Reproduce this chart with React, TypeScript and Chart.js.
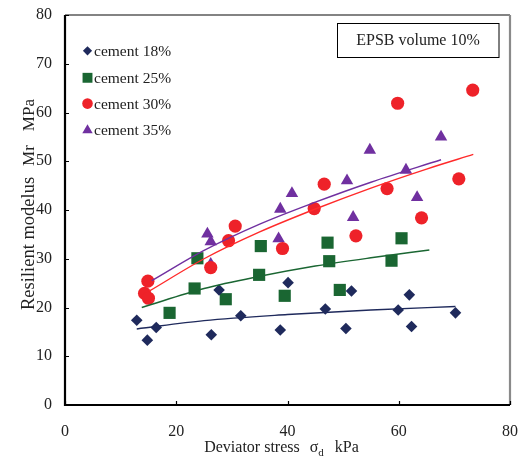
import React, { useEffect, useRef } from "react";
import { Chart, registerables } from "chart.js";

Chart.register(...registerables);

// ---- data ----
const seriesLabels = ["cement 18%", "cement 25%", "cement 30%", "cement 35%"];

const cement18X = [12.9, 14.8, 16.4, 26.3, 27.7, 31.6, 38.7, 40.1, 46.8, 50.5, 51.5, 59.9, 61.9, 62.3, 70.2];
const cement18Y = [17.4, 13.3, 15.9, 14.4, 23.6, 18.3, 15.4, 25.1, 19.7, 15.7, 23.4, 19.5, 22.6, 16.1, 18.9];

const cement25X = [23.8, 35.2, 47.2, 60.5, 47.5, 58.7, 34.9, 23.3, 28.9, 39.5, 49.4, 18.8];
const cement25Y = [30.1, 32.6, 33.3, 34.2, 29.5, 29.6, 26.7, 23.9, 21.7, 22.4, 23.6, 18.9];

const cement30X = [14.9, 14.3, 15.0, 26.2, 29.4, 30.6, 39.1, 44.8, 46.6, 52.3, 57.9, 64.1, 70.8, 59.8, 73.3];
const cement30Y = [25.4, 22.9, 21.9, 28.2, 33.7, 36.7, 32.1, 40.3, 45.3, 34.7, 44.4, 38.4, 46.4, 61.9, 64.6];

const cement35X = [25.6, 26.2, 26.2, 38.4, 38.7, 40.8, 50.7, 51.8, 54.8, 61.3, 63.3, 67.6];
const cement35Y = [35.1, 33.5, 28.9, 34.1, 40.2, 43.4, 46.0, 38.5, 52.3, 48.2, 42.6, 55.0];

// trend lines
const trend18X = [12.9, 25, 40, 55, 70.2];
const trend18Y = [15.6, 17.3, 18.55, 19.5, 20.2];
const trend25X = [13.8, 25, 35, 45, 55, 65.5];
const trend25Y = [20.0, 23.9, 26.4, 28.5, 30.2, 31.8];
const trend30X = [15.2, 25, 35, 45, 55, 65, 73.4];
const trend30Y = [23.4, 30.0, 35.5, 40.2, 44.5, 48.4, 51.4];
const trend35X = [15.6, 25, 35, 45, 55, 67.6];
const trend35Y = [25.5, 31.7, 37.1, 41.6, 45.7, 50.3];

const xTicks = [0, 20, 40, 60, 80];
const yTicks = [0, 10, 20, 30, 40, 50, 60, 70, 80];

const annotationText = "EPSB volume 10%";

const COLORS = ["#1f2a5c", "#1a6632", "#ee2229", "#7030a0"];
const LINE_COLORS = ["#1f2a5c", "#1a6632", "#ff2a2a", "#7030a0"];
const STYLES = ["rectRot", "rect", "circle", "triangle"];
const RADII = [5.8, 8.6, 6.6, 7.2];
const LEGEND_R = [4.6, 7.0, 5.3, 6.0];

const FONT = '"Liberation Serif", "Times New Roman", serif';

const pts = (xs: number[], ys: number[]) => xs.map((x, i) => ({ x, y: ys[i] }));

function drawMarker(ctx: CanvasRenderingContext2D, style: string, x: number, y: number, r: number, color: string) {
  ctx.save();
  ctx.fillStyle = color;
  ctx.beginPath();
  if (style === "circle") {
    ctx.arc(x, y, r, 0, Math.PI * 2);
  } else if (style === "rect") {
    const s = r * Math.SQRT1_2;
    ctx.rect(x - s, y - s, 2 * s, 2 * s);
  } else if (style === "rectRot") {
    ctx.moveTo(x - r, y);
    ctx.lineTo(x, y - r);
    ctx.lineTo(x + r, y);
    ctx.lineTo(x, y + r);
    ctx.closePath();
  } else {
    let a = 0;
    ctx.moveTo(x + Math.sin(a) * r, y - Math.cos(a) * r);
    a += (2 * Math.PI) / 3;
    ctx.lineTo(x + Math.sin(a) * r, y - Math.cos(a) * r);
    a += (2 * Math.PI) / 3;
    ctx.lineTo(x + Math.sin(a) * r, y - Math.cos(a) * r);
    ctx.closePath();
  }
  ctx.fill();
  ctx.restore();
}

const decor = {
  id: "decor",
  afterDraw(chart: any) {
    const ctx: CanvasRenderingContext2D = chart.ctx;
    const { left, right, top, bottom } = chart.chartArea;
    const xs = chart.scales.x;
    const ys = chart.scales.y;
    ctx.save();

    // frame: top and right gray
    ctx.strokeStyle = "#5a5a5a";
    ctx.lineWidth = 1.3;
    ctx.beginPath();
    ctx.moveTo(left, top);
    ctx.lineTo(right, top);
    ctx.stroke();
    ctx.strokeStyle = "#8a8a8a";
    ctx.lineWidth = 2.2;
    ctx.beginPath();
    ctx.moveTo(right, top);
    ctx.lineTo(right, bottom);
    ctx.stroke();

    // inward ticks
    ctx.strokeStyle = "#000";
    ctx.lineWidth = 1.2;
    ctx.beginPath();
    yTicks.forEach((v) => {
      const py = Math.round(ys.getPixelForValue(v)) + 0.5;
      ctx.moveTo(left, py);
      ctx.lineTo(left + 4, py);
    });
    xTicks.forEach((v) => {
      const px = Math.round(xs.getPixelForValue(v)) + 0.5;
      ctx.moveTo(px, bottom);
      ctx.lineTo(px, bottom - 4);
    });
    ctx.stroke();

    // left & bottom axes
    ctx.strokeStyle = "#000";
    ctx.lineWidth = 2.2;
    ctx.beginPath();
    ctx.moveTo(left, top);
    ctx.lineTo(left, bottom);
    ctx.lineTo(right, bottom);
    ctx.stroke();

    // legend
    ctx.font = `15.5px ${FONT}`;
    ctx.textBaseline = "middle";
    ctx.textAlign = "left";
    const rows = [50.8, 77.8, 103.6, 129.5];
    seriesLabels.forEach((lab, i) => {
      const yy = rows[i];
      drawMarker(ctx, STYLES[i], 87.5, yy + (i === 3 ? 0.8 : 0), LEGEND_R[i], COLORS[i]);
      ctx.fillStyle = "#222";
      ctx.fillText(lab, 94, yy + 1);
    });

    // annotation box
    ctx.strokeStyle = "#000";
    ctx.lineWidth = 1;
    ctx.strokeRect(337.5, 23.5, 161.5, 34);
    ctx.font = `16px ${FONT}`;
    ctx.fillStyle = "#222";
    ctx.textAlign = "center";
    ctx.fillText(annotationText, 418, 41);

    // x title with subscript
    ctx.textAlign = "left";
    ctx.textBaseline = "alphabetic";
    const big = `16px ${FONT}`;
    const small = `11px ${FONT}`;
    ctx.font = big;
    const p1 = "Deviator stress";
    const w1 = ctx.measureText(p1).width;
    const ws = ctx.measureText("σ").width;
    const wk = ctx.measureText("kPa").width;
    ctx.font = small;
    const wd = ctx.measureText("d").width;
    const gap1 = 10;
    const gap2 = 11;
    const total = w1 + gap1 + ws + wd + gap2 + wk;
    let cx = (left + right) / 2 - 6 - total / 2;
    const base = 451.5;
    ctx.font = big;
    ctx.fillText(p1, cx, base);
    cx += w1 + gap1;
    ctx.fillText("σ", cx, base);
    cx += ws;
    ctx.font = small;
    ctx.fillText("d", cx, base + 4);
    cx += wd + gap2;
    ctx.font = big;
    ctx.fillText("kPa", cx, base);

    // y title (rotated), laid out from bottom upwards
    ctx.save();
    ctx.translate(34, 0);
    ctx.rotate(-Math.PI / 2);
    ctx.textAlign = "left";
    ctx.textBaseline = "alphabetic";
    let u = -310;
    ctx.font = `18.5px ${FONT}`;
    ctx.fillText("Resilient modelus", u, 0);
    u += ctx.measureText("Resilient modelus").width + 11;
    ctx.font = `17px ${FONT}`;
    ctx.fillText("Mr", u, 0);
    u += ctx.measureText("Mr").width + 14;
    ctx.fillText("MPa", u, 0);
    ctx.restore();

    ctx.restore();
  },
};

const zeroPad = (s: any) => {
  s.paddingTop = 0;
  s.paddingBottom = 0;
  s.paddingLeft = 0;
  s.paddingRight = 0;
};

export default function App() {
  const ref = useRef<HTMLCanvasElement>(null);
  useEffect(() => {
    document.body.style.margin = "0";
    const xsArr = [cement18X, cement25X, cement30X, cement35X];
    const ysArr = [cement18Y, cement25Y, cement30Y, cement35Y];
    const txArr = [trend18X, trend25X, trend30X, trend35X];
    const tyArr = [trend18Y, trend25Y, trend30Y, trend35Y];
    const datasets: any[] = [];
    seriesLabels.forEach((lab, i) => {
      datasets.push({
        type: "scatter",
        label: lab,
        data: pts(xsArr[i], ysArr[i]),
        pointStyle: STYLES[i],
        pointRadius: RADII[i],
        pointBackgroundColor: COLORS[i],
        pointBorderColor: COLORS[i],
        pointBorderWidth: 0,
        order: 2,
      });
    });
    seriesLabels.forEach((lab, i) => {
      datasets.push({
        type: "line",
        label: lab + " trend",
        data: pts(txArr[i], tyArr[i]),
        borderColor: LINE_COLORS[i],
        borderWidth: 1.4,
        pointRadius: 0,
        fill: false,
        cubicInterpolationMode: "monotone",
        order: 1,
      });
    });
    const chart = new Chart(ref.current!, {
      type: "scatter",
      data: { datasets },
      plugins: [decor],
      options: {
        responsive: false,
        animation: false,
        devicePixelRatio: 1,
        layout: { padding: { top: 15, right: 9, left: 0, bottom: 0 } },
        plugins: { legend: { display: false }, tooltip: { enabled: false } },
        scales: {
          x: {
            type: "linear",
            min: 0,
            max: 80,
            afterBuildTicks: (s: any) => {
              s.ticks = xTicks.map((v) => ({ value: v }));
            },
            afterFit: (s: any) => {
              s.height = 52;
              zeroPad(s);
            },
            grid: { display: false, drawTicks: false },
            border: { display: false },
            ticks: {
              padding: 17,
              color: "#222",
              font: { family: FONT, size: 16 },
              maxRotation: 0,
            },
          },
          y: {
            type: "linear",
            min: 0,
            max: 80,
            afterBuildTicks: (s: any) => {
              s.ticks = yTicks.map((v) => ({ value: v }));
            },
            afterFit: (s: any) => {
              s.width = 65;
              zeroPad(s);
            },
            grid: { display: false, drawTicks: false },
            border: { display: false },
            ticks: {
              padding: 13,
              color: "#222",
              font: { family: FONT, size: 16 },
            },
          },
        },
      },
    });
    return () => chart.destroy();
  }, []);
  return (
    <div style={{ position: "absolute", left: 0, top: 0, width: 519, height: 457 }}>
      <canvas ref={ref} width={519} height={457} style={{ width: 519, height: 457 }} />
    </div>
  );
}
